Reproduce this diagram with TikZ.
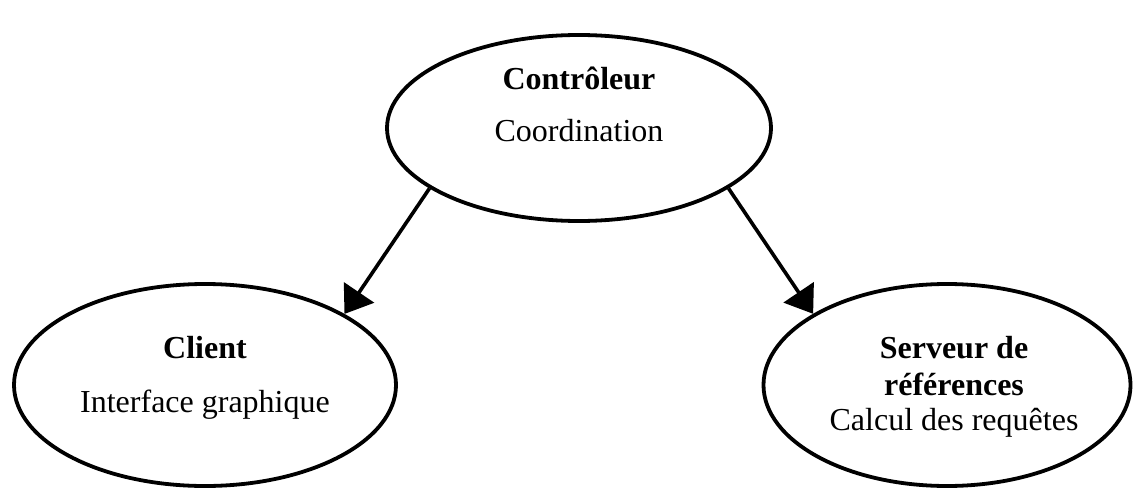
\documentclass[tikz,border=0pt]{standalone}
\usepackage{fontspec}
\setmainfont{Liberation Serif}
\usetikzlibrary{shapes.geometric,arrows.meta}

\begin{document}
\begin{tikzpicture}[
  bubble/.style={draw=black, line width=1.9pt, ellipse, inner sep=0pt},
  word/.style={anchor=base, inner sep=0pt, font=\fontsize{16}{19}\selectfont},
  title/.style={word, font=\fontsize{16}{19}\selectfont\bfseries},
  link/.style={line width=1.8pt, -{Triangle[length=13pt,width=18pt]}}]
 \path[use as bounding box] (0,0) rectangle (572pt,244pt);

\node[bubble, minimum width=192pt, minimum height=93pt] (ctrl) at (289.5pt,180pt) {};
\node[bubble, minimum width=191pt, minimum height=101pt] (client) at (102.5pt,51.5pt) {};
\node[bubble, minimum width=183.5pt, minimum height=101pt] (serv) at (473.5pt,51.5pt) {};

\node[title] (ctrltitle) at (289.5pt,199pt) {Contrôleur};
\node[word] (ctrlsub) at (289.5pt,173pt) {Coordination};

\node[title] (clienttitle) at (102.5pt,65pt) {Client};
\node[word] (clientsub) at (102.5pt,38pt) {Interface graphique};

\node[title] (servtitle) at (477pt,65pt) {Serveur de};
\node[title] (servtitleb) at (477pt,46.5pt) {références};
\node[word] (servsub) at (477pt,29pt) {Calcul des requêtes};

\draw[link] (ctrl.202) -- (client.27);
\draw[link] (ctrl.338) -- (serv.152);

\end{tikzpicture}
\end{document}
